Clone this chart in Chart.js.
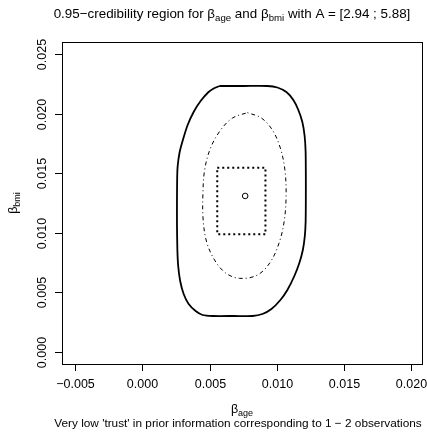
<!DOCTYPE html>
<html>
<head>
<meta charset="utf-8">
<script src="https://cdn.jsdelivr.net/npm/chart.js@4.4.0/dist/chart.umd.min.js"></script>
<style>
  html, body { margin: 0; padding: 0; background: #fff; }
  canvas { display: block; }
</style>
</head>
<body>
<canvas id="region" width="427" height="436"></canvas>
<script>
// Outline points (beta_age, beta_bmi)
const outerAge = [0.005743, 0.007600, 0.009309, 0.010051, 0.010720, 0.011240, 0.011612, 0.011909, 0.012080, 0.012154,
                  0.012169, 0.012169, 0.012154, 0.012094, 0.011946, 0.011686, 0.011314, 0.010794, 0.010274, 0.009606,
                  0.008937, 0.008194, 0.006857, 0.005223, 0.004480, 0.003960, 0.003440, 0.003068, 0.002808, 0.002660,
                  0.002600, 0.002570, 0.002570, 0.002585, 0.002622, 0.002771, 0.003031, 0.003365, 0.003811, 0.004331,
                  0.004925, 0.005371, 0.005743];
const outerBmi = [0.022315, 0.022315, 0.022315, 0.022189, 0.021811, 0.021140, 0.020301, 0.019295, 0.018120, 0.016778,
                  0.014849, 0.012751, 0.010906, 0.009731, 0.008557, 0.007466, 0.006376, 0.005201, 0.004362, 0.003607,
                  0.003188, 0.003020, 0.003020, 0.003020, 0.003104, 0.003439, 0.004027, 0.004866, 0.005956, 0.007215,
                  0.008557, 0.010654, 0.012751, 0.014597, 0.015604, 0.016778, 0.017869, 0.019043, 0.020134, 0.021056,
                  0.021811, 0.022147, 0.022315];

const ellipseAge = [0.00782, 0.00886, 0.00968, 0.01027, 0.01061, 0.01070, 0.01057, 0.01020, 0.00953, 0.00857,
                    0.00723, 0.00619, 0.00537, 0.00478, 0.00452, 0.00450, 0.00463, 0.00507, 0.00582, 0.00671,
                    0.00782];
const ellipseBmi = [0.02008, 0.01963, 0.01862, 0.01711, 0.01527, 0.01317, 0.01107, 0.00923, 0.00755, 0.00646,
                    0.00618, 0.00663, 0.00772, 0.00923, 0.01107, 0.01317, 0.01527, 0.01711, 0.01862, 0.01963,
                    0.02008];

const boxAge = [0.00557, 0.00916, 0.00916, 0.00557, 0.00557];
const boxBmi = [0.01546, 0.01546, 0.00987, 0.00987, 0.01546];

const modeAge = [0.00765];
const modeBmi = [0.01309];

const xTicks = [-0.005, 0.000, 0.005, 0.010, 0.015, 0.020];
const xTickLabels = ['\u22120.005', '0.000', '0.005', '0.010', '0.015', '0.020'];
const yTicks = [0.000, 0.005, 0.010, 0.015, 0.020, 0.025];
const yTickLabels = ['0.000', '0.005', '0.010', '0.015', '0.020', '0.025'];

const FONT = '"Liberation Sans", Arial, Helvetica, sans-serif';

function toPoints(xs, ys) {
    return xs.map((x, i) => ({ x: x, y: ys[i] }));
}

function partsWidth(ctx, parts, size) {
    const subSize = size * 0.72;
    let total = 0;
    parts.forEach(p => {
        ctx.font = (p[1] ? subSize : size) + 'px ' + FONT;
        total += ctx.measureText(p[0]).width;
    });
    return total;
}

// draws text made of [text, isSubscript] parts centred at (cx, cy)
function drawParts(ctx, parts, cx, cy, size) {
    const subSize = size * 0.72;
    let x = cx - partsWidth(ctx, parts, size) / 2;
    ctx.textAlign = 'left';
    ctx.textBaseline = 'middle';
    parts.forEach(p => {
        ctx.font = (p[1] ? subSize : size) + 'px ' + FONT;
        ctx.fillText(p[0], x, p[1] ? cy + size * 0.3 : cy);
        x += ctx.measureText(p[0]).width;
    });
}

const rFrame = {
    id: 'rFrame',
    afterDraw(chart) {
        const ctx = chart.ctx;
        const area = chart.chartArea;
        const xs = chart.scales.x;
        const ys = chart.scales.y;
        ctx.save();
        ctx.strokeStyle = '#000';
        ctx.fillStyle = '#000';
        ctx.lineWidth = 1;
        ctx.strokeRect(Math.round(area.left) + 0.5, Math.round(area.top) + 0.5,
                       Math.round(area.right - area.left), Math.round(area.bottom - area.top));

        // x axis ticks
        ctx.font = '12.5px ' + FONT;
        ctx.textAlign = 'center';
        ctx.textBaseline = 'middle';
        xTicks.forEach((v, i) => {
            const px = Math.round(xs.getPixelForValue(v)) + 0.5;
            ctx.beginPath();
            ctx.moveTo(px, area.bottom);
            ctx.lineTo(px, area.bottom + 7);
            ctx.stroke();
            ctx.fillText(xTickLabels[i], px, area.bottom + 21);
        });

        // y axis ticks (labels rotated like R)
        yTicks.forEach((v, i) => {
            const py = Math.round(ys.getPixelForValue(v)) + 0.5;
            ctx.beginPath();
            ctx.moveTo(area.left, py);
            ctx.lineTo(area.left - 7, py);
            ctx.stroke();
            ctx.save();
            ctx.translate(area.left - 19, py);
            ctx.rotate(-Math.PI / 2);
            ctx.textAlign = 'center';
            ctx.textBaseline = 'middle';
            ctx.fillText(yTickLabels[i], 0, 0);
            ctx.restore();
        });

        // title, sized to the width it has in the reference
        const title = [['0.95\u2212credibility region for \u03b2', false], ['age', true],
                       [' and \u03b2', false], ['bmi', true], [' with A = [2.94 ; 5.88]', false]];
        const titleSize = 12 * 357 / partsWidth(ctx, title, 12);
        drawParts(ctx, title, 232, 14, titleSize);

        // axis titles
        drawParts(ctx, [['\u03b2', false], ['age', true]], 242, 410, 12.5);
        ctx.save();
        ctx.translate(14, (area.top + area.bottom) / 2);
        ctx.rotate(-Math.PI / 2);
        drawParts(ctx, [['\u03b2', false], ['bmi', true]], 0, 0, 12.5);
        ctx.restore();

        // subtitle
        const sub = "Very low 'trust' in prior information corresponding to 1 \u2212 2 observations";
        ctx.font = '12px ' + FONT;
        const subSize = 12 * 368 / ctx.measureText(sub).width;
        ctx.font = subSize + 'px ' + FONT;
        ctx.textAlign = 'center';
        ctx.textBaseline = 'middle';
        ctx.fillText(sub, 238, 424);
        ctx.restore();
    }
};

new Chart(document.getElementById('region'), {
    type: 'scatter',
    data: {
        datasets: [
            {
                label: 'outer',
                data: toPoints(outerAge, outerBmi),
                showLine: true,
                borderColor: '#000',
                borderWidth: 1.8,
                pointRadius: 0,
                tension: 0.2
            },
            {
                label: 'ellipse',
                data: toPoints(ellipseAge, ellipseBmi),
                showLine: true,
                borderColor: '#000',
                borderWidth: 1,
                borderDash: [1, 3, 4, 3],
                pointRadius: 0,
                tension: 0.35
            },
            {
                label: 'box',
                data: toPoints(boxAge, boxBmi),
                showLine: true,
                borderColor: '#000',
                borderWidth: 2,
                borderDash: [2, 3],
                pointRadius: 0,
                tension: 0
            },
            {
                label: 'mode',
                data: toPoints(modeAge, modeBmi),
                showLine: false,
                borderColor: '#000',
                backgroundColor: 'rgba(0,0,0,0)',
                pointBackgroundColor: 'rgba(0,0,0,0)',
                pointBorderColor: '#000',
                pointBorderWidth: 1,
                pointRadius: 2.8
            }
        ]
    },
    options: {
        responsive: false,
        animation: false,
        layout: { padding: { left: 62, right: 4, top: 42, bottom: 72 } },
        plugins: {
            legend: { display: false },
            tooltip: { enabled: false }
        },
        scales: {
            x: { type: 'linear', display: false, min: -0.005995, max: 0.020823 },
            y: { type: 'linear', display: false, min: -0.001007, max: 0.026006 }
        }
    },
    plugins: [rFrame]
});
</script>
</body>
</html>
